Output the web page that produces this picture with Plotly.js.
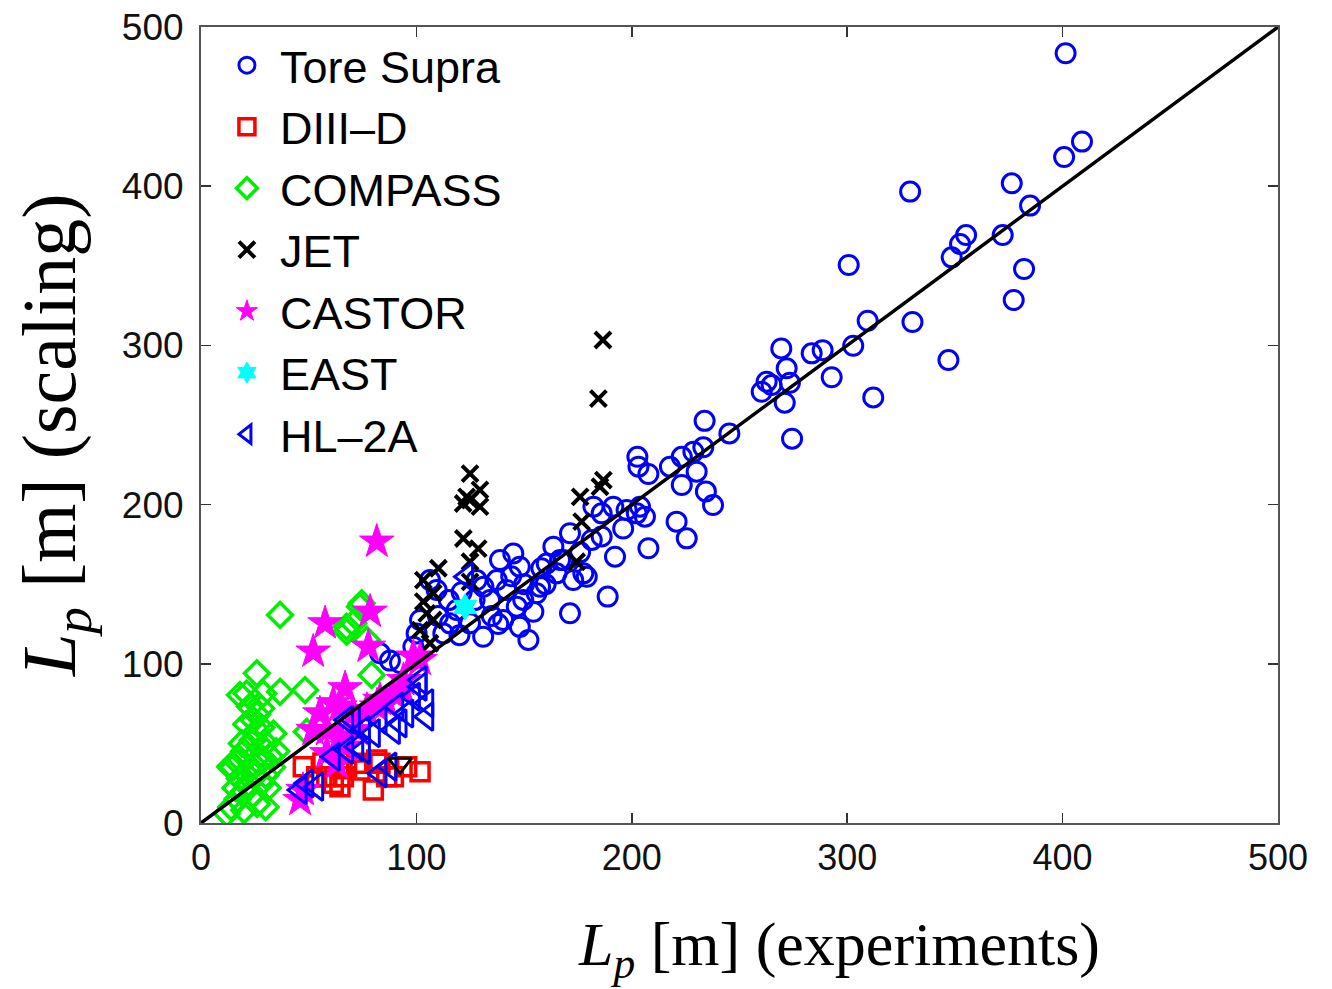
<!DOCTYPE html>
<html>
<head>
<meta charset="utf-8">
<script src="https://cdn.plot.ly/plotly-3.0.1.min.js"></script>
<style>html,body{margin:0;padding:0;background:#fff;}#chart{width:1332px;height:989px;}</style>
</head>
<body>
<div id="chart"></div>
<script>
// ---- data ----
const toreSupraX = [401.4,409,400.7,376.4,329.2,384.9,355.2,352.4,348.5,372.2,382.1,377.3,330.3,347,300.7,309.5,312.1,302.8,292.8,288.6,283.5,269.4,271.9,262.6,260.3,264.9,273.4,271,274.4,245.3,233.8,233.2,228.6,223.2,202.6,203.1,207.7,217.7,223.2,230.1,234.4,237.7,220.8,225.5,207.7,192.2,188.8,171.3,197.6,203.8,206.1,202.3,191.4,186,182.2,181.4,177.5,179.1,172.8,171.3,166.7,152,148,131,154.3,149.6,155.8,163.6,160.5,168.2,165.1,138.8,145,148,137.3,131.1,134.2,128,141.9,146.6,140.3,124.9,115.6,112.5,118.7,109.4,106.3,101.7,100.1,98.6,157.4,83.1,87.7,92.4,115,121,127,135,144,150,160,176,186,196,158,138,120,110];
const toreSupraY = [483.5,428,418.3,401.8,396.6,387.8,369.3,363.7,355.3,369.3,348,328.5,314.7,290.8,350.5,315.5,267.3,299.8,280,297,295,298.1,285.6,277.2,270.9,275.1,276.5,264,241.4,244.7,252.6,236,233.2,230,230,223.8,219.2,223.8,212.3,220.7,208.3,199.7,189.3,178.8,172.6,167.3,142.2,131.7,196.6,198.7,192.4,194.5,198.7,194.5,198.7,177.8,156.8,154.7,152.6,182,165.2,115,123.2,117,132.7,140.1,144.3,173.6,163,165.2,156.8,165.2,169.3,161,152.6,148.4,140,152.6,146.4,135.9,127.5,125.4,125.4,119.1,133.8,146.4,152.6,127.5,119.1,110.7,148.4,106.6,102,100.5,140,145,140,130,155,150,150,170,180,185,160,125,118,130];

const diiidX = [47.5,53.7,58.4,61.4,64.5,66.1,81.6,80,83.1,86.2,89.3,101.7,95.5,72.3,73.8,56.6,59.9,67.6];
const diiidY = [35.4,29.1,29.1,24.9,22.8,29.1,39.6,20.7,37.5,29.1,29.1,32.2,35.4,37.5,33.3,37.7,37.7,35.4];

const compassX = [36.7,70.7,67.6,73.8,25.9,18.1,21.2,28.9,36.7,48.3,22.7,24.3,33.6,13.5,49.1,79.2,77,67.6,74.6,15,18,20,22,24,26,28,30,32,27,25,22,20,17,14,12,18,24,28,30,31,26,20,16,29,33,35,23,19,21,26,17,28,30];
const compassY = [130.7,125.4,120.1,135.9,94,80.4,81.3,81.3,82.4,83.5,73.1,64.7,56.2,35.4,57.3,93,115,123.2,138,35,40,45,48,52,58,60,50,42,38,30,25,20,15,10,6,28,18,25,30,22,12,8,22,40,35,45,35,50,62,68,38,72,10];

const jetX = [184.5,186.6,124.9,129.5,123.3,121.7,129.5,124.9,121.8,128.7,124.9,110.2,103.2,107.8,103.2,104.8,107.8,101.7,106.3,124.9,176,185.2,186.8,176.7,174.4];
const jetY = [266.6,303.4,219.5,209.2,204.9,200.7,198.7,202.9,178.7,172.4,164.1,160,152.6,144.3,139,131.7,127.5,121.2,112.9,151.5,204.9,211.2,215.4,189.3,164.1];

const castorX = [81.6,78.5,57.6,77.7,52.1,66.9,83.1,89.3,93.9,61.4,55.2,64.5,70.7,77,86.2,98.6,94,52.1,58.4,64.5,67.6,63,58.4,46,47.4,81.6,72.3,101.7];
const castorY = [176.7,132.7,125.4,110.7,107.6,84.6,77.3,81.3,83.5,75.2,68.8,73.1,68.8,71,75.2,104.5,89.8,58.4,58.4,54.2,47.9,37.5,43.8,14.4,20.7,73.1,58.4,102.4];

const eastX = [122.6];
const eastY = [135.7];

const hl2aX = [104.8,101.7,104.8,92.4,95.5,83.1,89.3,80,72.3,67.6,83.1,87.7,46,53.7,49.1,75.4,67.6,90.9,98.6,101.7,70.7,61.4,75.4,123.3];
const hl2aY = [75.2,85.6,66.8,62.6,68.8,64.7,58.4,56.4,47.9,45.9,31.2,35.4,20.7,22.8,24.9,58.4,64.7,73.1,79.3,89.8,64.7,41.6,45.9,154.7];

const otherX = [92.4];
const otherY = [37.5];

const lineX = [0, 500];
const lineY = [0, 500];

const tickVals = [0,100,200,300,400,500];
const tickText = ['0','100','200','300','400','500'];

// ---- traces ----
const traces = [
  {x: toreSupraX, y: toreSupraY, name: 'Tore Supra', mode: 'markers', type: 'scatter',
   marker: {symbol: 'circle-open', size: 19, color: '#0000ff', line: {width: 3, color: '#0000ff'}}},
  {x: diiidX, y: diiidY, name: 'DIII\u2013D', mode: 'markers', type: 'scatter',
   marker: {symbol: 'square-open', size: 18, color: '#ff0000', line: {width: 3.5, color: '#ff0000'}}},
  {x: compassX, y: compassY, name: 'COMPASS', mode: 'markers', type: 'scatter',
   marker: {symbol: 'diamond-open', size: 19, color: '#00ee00', line: {width: 3.5, color: '#00ee00'}}},
  {x: jetX, y: jetY, name: 'JET', mode: 'markers', type: 'scatter',
   marker: {symbol: 'x-thin-open', size: 16, color: '#000000', line: {width: 4, color: '#000000'}}},
  {x: castorX, y: castorY, name: 'CASTOR', mode: 'markers', type: 'scatter',
   marker: {symbol: 'star', size: 26, color: '#ff00ff', line: {width: 1, color: '#ff00ff'}}},
  {x: eastX, y: eastY, name: 'EAST', mode: 'markers', type: 'scatter',
   marker: {symbol: 'hexagram', size: 20, color: '#00ffff', line: {width: 1, color: '#00ffff'}}},
  {x: hl2aX, y: hl2aY, name: 'HL\u20132A', mode: 'markers', type: 'scatter',
   marker: {symbol: 'triangle-left-open', size: 24, color: '#0000ff', line: {width: 3, color: '#0000ff'}}},
  {x: otherX, y: otherY, name: 'other', mode: 'markers', type: 'scatter', showlegend: false,
   marker: {symbol: 'triangle-down-open', size: 20, color: '#000000', line: {width: 3, color: '#000000'}}},
  {x: lineX, y: lineY, name: 'y = x', mode: 'lines', type: 'scatter', showlegend: false, hoverinfo: 'skip',
   line: {color: '#000000', width: 3.5}}
];

const axisCommon = {
  range: [0, 500], tickmode: 'array', tickvals: tickVals, ticktext: tickText,
  ticks: 'inside', ticklen: 10, tickwidth: 1.5, tickcolor: '#333',
  showline: true, linecolor: '#555', linewidth: 2, mirror: 'ticks',
  showgrid: false, zeroline: false, fixedrange: true
};

const layout = {
  width: 1332, height: 989,
  margin: {l: 201, r: 54, t: 27, b: 166, pad: 0},
  paper_bgcolor: '#ffffff', plot_bgcolor: '#ffffff',
  font: {family: 'Liberation Sans, Arial, sans-serif', color: '#000'},
  xaxis: Object.assign({}, axisCommon, {tickfont: {size: 36, color: '#111'}, ticklabelstandoff: 2}),
  yaxis: Object.assign({}, axisCommon, {tickfont: {size: 37, color: '#111'}, ticklabelstandoff: 8}),
  showlegend: true,
  legend: {x: 0.012, y: 0.997, xanchor: 'left', yanchor: 'top',
           bgcolor: 'rgba(255,255,255,0)', borderwidth: 0,
           font: {family: 'Liberation Sans, Arial, sans-serif', size: 45, color: '#000'},
           itemsizing: 'trace', itemwidth: 56, tracegroupgap: 0},
  annotations: [
    {text: '<i>L</i><sub><i>p</i></sub> [m] (experiments)', xref: 'paper', yref: 'paper',
     x: 0.592, y: -0.158, xanchor: 'center', yanchor: 'middle', showarrow: false,
     font: {family: 'Liberation Serif, DejaVu Serif, serif', size: 62, color: '#000'}},
    {text: '<i>L</i><sub><i>p</i></sub> [m] (scaling)', xref: 'paper', yref: 'paper',
     x: -0.135, y: 0.487, xanchor: 'center', yanchor: 'middle', showarrow: false, textangle: -90,
     font: {family: 'Liberation Serif, DejaVu Serif, serif', size: 76, color: '#000'}}
  ]
};

Plotly.newPlot('chart', traces, layout, {displayModeBar: false, staticPlot: true});
</script>
</body>
</html>
